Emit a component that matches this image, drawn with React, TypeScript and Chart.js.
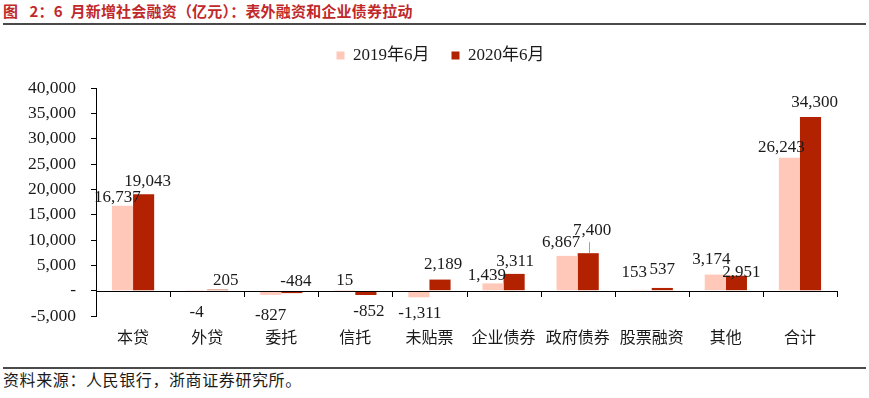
import React, { useEffect, useRef } from "react";
import { Chart, registerables } from "chart.js";

Chart.register(...registerables);

const categories = ["本贷", "外贷", "委托", "信托", "未贴票", "企业债券", "政府债券", "股票融资", "其他", "合计"];
const series2019 = [16737, -4, -827, 15, -1311, 1439, 6867, 153, 3174, 26243];
const series2020 = [19043, 205, -484, -852, 2189, 3311, 7400, 537, 2951, 34300];
const seriesNames = ["2019年6月", "2020年6月"];
const yTicks = { min: -5000, max: 40000, step: 5000 };

// label placement tweaks (pixels, relative to bar end) — styling only
const labelDx2019 = [-5, 0, 0, 0, 1, -6, -6, -7, -4, -8];
const labelDy2019 = [-8, 22, 21, -10, 16, -8, -13, -17, -15, -10];
const labelDx2020 = [4, 8, 4, 3, 3, 1, 4, 0, 5, 4];
const labelDy2020 = [-13, -9, -12, 17, -15, -12, -23, -18, -3, -14];

const COLOR_LIGHT = "#FFC8B9";
const COLOR_DARK = "#B22200";
const SERIF = "'Liberation Serif', 'Noto Sans CJK SC', serif";
const LEGEND_SHIFT = 44;

const fmt = (v: number) => (v === 0 ? "-" : v.toLocaleString("en-US"));

const legendSpacer = {
  id: "legendSpacer",
  afterInit(chart: any) {
    const legend = chart.legend;
    if (legend && !legend.__patched) {
      const fit = legend.fit;
      legend.fit = function () {
        fit.call(this);
        this.height += 14;
      };
      legend.__patched = true;
    }
  },
  afterLayout(chart: any) {
    const legend = chart.legend;
    if (legend) {
      legend.left += LEGEND_SHIFT;
    }
  },
};

const axisAndLabels = {
  id: "axisAndLabels",
  afterDatasetsDraw(chart: any) {
    const ctx = chart.ctx;
    const y = chart.scales.y;
    const y0 = y.getPixelForValue(0);
    const area = chart.chartArea;
    ctx.save();
    // zero line
    ctx.strokeStyle = "#000";
    ctx.lineWidth = 1;
    ctx.beginPath();
    ctx.moveTo(area.left, Math.round(y0) + 0.5);
    ctx.lineTo(area.right, Math.round(y0) + 0.5);
    ctx.stroke();
    // category boundary ticks
    const n = categories.length;
    const w = (area.right - area.left) / n;
    ctx.beginPath();
    for (let i = 1; i <= n; i++) {
      const xx = Math.round(area.left + i * w) + 0.5;
      ctx.moveTo(xx, Math.round(y0));
      ctx.lineTo(xx, Math.round(y0) + 6);
    }
    ctx.stroke();

    // data labels
    ctx.font = "17px " + SERIF;
    ctx.fillStyle = "#1a1a1a";
    ctx.textAlign = "center";
    ctx.textBaseline = "middle";
    const dxs = [labelDx2019, labelDx2020];
    const dys = [labelDy2019, labelDy2020];
    chart.data.datasets.forEach((ds: any, di: number) => {
      const meta = chart.getDatasetMeta(di);
      meta.data.forEach((el: any, i: number) => {
        const v = ds.data[i];
        const lx = el.x + dxs[di][i];
        const ly = el.y + dys[di][i];
        if (di === 1 && i === 6) {
          ctx.save();
          ctx.strokeStyle = "#a0a0a0";
          ctx.beginPath();
          ctx.moveTo(Math.round(el.x + 1) + 0.5, ly + 12);
          ctx.lineTo(Math.round(el.x + 1) + 0.5, el.y);
          ctx.stroke();
          ctx.restore();
        }
        ctx.fillText(fmt(v), lx, ly);
      });
    });
    ctx.restore();
  },
};

export default function App() {
  const ref = useRef<HTMLCanvasElement>(null);
  useEffect(() => {
    if (!ref.current) return;
    const chart = new Chart(ref.current, {
      type: "bar",
      data: {
        labels: categories,
        datasets: [
          { label: seriesNames[0], data: series2019, backgroundColor: COLOR_LIGHT, borderWidth: 0, categoryPercentage: 0.57, barPercentage: 1 },
          { label: seriesNames[1], data: series2020, backgroundColor: COLOR_DARK, borderWidth: 0, categoryPercentage: 0.57, barPercentage: 1 },
        ],
      },
      options: {
        animation: false,
        responsive: false,
        devicePixelRatio: 1,
        layout: { padding: { left: 0, right: 32, top: 0, bottom: 0 } },
        plugins: {
          legend: {
            position: "top",
            labels: {
              boxWidth: 8,
              boxHeight: 8,
              padding: 22,
              color: "#1a1a1a",
              font: { size: 17, family: SERIF },
            },
          },
          tooltip: { enabled: false },
        },
        scales: {
          x: {
            grid: { display: false, drawTicks: false },
            border: { display: false },
            ticks: { color: "#1a1a1a", font: { size: 16, family: SERIF }, padding: 13, maxRotation: 0, autoSkip: false },
            afterFit(scale: any) {
              scale.height = 50;
            },
          },
          y: {
            min: yTicks.min,
            max: yTicks.max,
            ticks: {
              stepSize: yTicks.step,
              color: "#1a1a1a",
              font: { size: 17.5, family: SERIF },
              padding: 15,
              callback: (v: any) => fmt(Number(v)),
            },
            grid: { display: true, drawOnChartArea: false, drawTicks: true, tickLength: 5, color: "#000" },
            border: { display: true, color: "#000", width: 1 },
            afterFit(scale: any) {
              scale.width = 96;
            },
          },
        },
      },
      plugins: [legendSpacer, axisAndLabels],
    });
    return () => chart.destroy();
  }, []);

  return (
    <div style={{ position: "fixed", left: 0, top: 0, width: 869, height: 398, background: "#fff", overflow: "hidden" }}>
      <canvas ref={ref} width={869} height={341} style={{ position: "absolute", left: 0, top: 25, width: 869, height: 341 }} />
      <div
        style={{
          position: "absolute",
          left: 3,
          top: 1,
          fontFamily: "'Noto Sans CJK SC', sans-serif",
          fontWeight: 700,
          fontSize: 15,
          letterSpacing: "0.2px",
          lineHeight: "20px",
          color: "#C0282A",
          whiteSpace: "pre",
        }}
      >
        {"图\u2002 2：6\u2002月新增社会融资（亿元）：表外融资和企业债券拉动"}
      </div>
      <div style={{ position: "absolute", left: 3, top: 23, width: 863, height: 2, background: "#4a4a4a" }} />
      <div style={{ position: "absolute", left: 3, top: 367, width: 863, height: 2, background: "#4a4a4a" }} />
      <div
        style={{
          position: "absolute",
          left: 3,
          top: 372,
          fontFamily: SERIF,
          fontSize: 16,
          letterSpacing: "0.6px",
          lineHeight: "18px",
          color: "#1a1a1a",
          whiteSpace: "nowrap",
        }}
      >
        资料来源：人民银行，浙商证券研究所。
      </div>
    </div>
  );
}
